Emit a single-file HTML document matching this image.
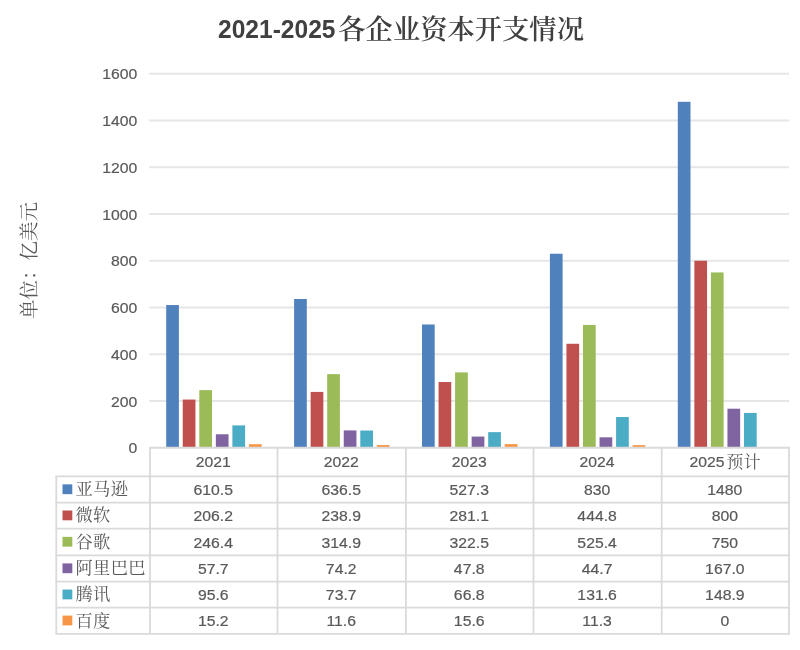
<!DOCTYPE html>
<html lang="zh-CN"><head><meta charset="utf-8"><title>2021-2025各企业资本开支情况</title>
<style>html,body{margin:0;padding:0;background:#fff;}body{width:800px;height:650px;overflow:hidden;}svg{display:block;filter:blur(0.4px);}.n{font-family:"Liberation Sans", "Noto Sans CJK SC", sans-serif;font-size:15.1px;fill:#595959;stroke:#595959;stroke-width:0.2px;}.c{font-family:"Liberation Sans", "Noto Serif CJK SC", serif;font-size:17.3px;fill:#595959;letter-spacing:0.3px;}</style></head><body>
<svg width="800" height="650" viewBox="0 0 800 650">
<rect width="800" height="650" fill="#ffffff"/>
<text x="218" y="37.5" font-family='"Liberation Sans", "Noto Serif CJK SC", sans-serif' font-weight="700" font-size="27" fill="#404040"><tspan font-size="25" textLength="117.5" lengthAdjust="spacingAndGlyphs">2021-2025</tspan><tspan x="338.3" dy="1" font-size="27.3" font-weight="600">各企业资本开支情况</tspan></text>
<text class="n" transform="translate(137.30,453.25) scale(1.045,1)" text-anchor="end">0</text>
<line x1="149.1" y1="401.00" x2="789.0" y2="401.00" stroke="#E6E6E6" stroke-width="1.9"/>
<text class="n" transform="translate(137.30,406.50) scale(1.045,1)" text-anchor="end">200</text>
<line x1="149.1" y1="354.25" x2="789.0" y2="354.25" stroke="#E6E6E6" stroke-width="1.9"/>
<text class="n" transform="translate(137.30,359.75) scale(1.045,1)" text-anchor="end">400</text>
<line x1="149.1" y1="307.50" x2="789.0" y2="307.50" stroke="#E6E6E6" stroke-width="1.9"/>
<text class="n" transform="translate(137.30,313.00) scale(1.045,1)" text-anchor="end">600</text>
<line x1="149.1" y1="260.75" x2="789.0" y2="260.75" stroke="#E6E6E6" stroke-width="1.9"/>
<text class="n" transform="translate(137.30,266.25) scale(1.045,1)" text-anchor="end">800</text>
<line x1="149.1" y1="214.00" x2="789.0" y2="214.00" stroke="#E6E6E6" stroke-width="1.9"/>
<text class="n" transform="translate(137.30,219.50) scale(1.045,1)" text-anchor="end">1000</text>
<line x1="149.1" y1="167.25" x2="789.0" y2="167.25" stroke="#E6E6E6" stroke-width="1.9"/>
<text class="n" transform="translate(137.30,172.75) scale(1.045,1)" text-anchor="end">1200</text>
<line x1="149.1" y1="120.50" x2="789.0" y2="120.50" stroke="#E6E6E6" stroke-width="1.9"/>
<text class="n" transform="translate(137.30,126.00) scale(1.045,1)" text-anchor="end">1400</text>
<line x1="149.1" y1="73.75" x2="789.0" y2="73.75" stroke="#E6E6E6" stroke-width="1.9"/>
<text class="n" transform="translate(137.30,79.25) scale(1.045,1)" text-anchor="end">1600</text>
<text transform="translate(36.3,260.5) rotate(-90)" text-anchor="middle" font-family='"Liberation Sans", "Noto Serif CJK SC", serif' font-size="19.5" fill="#595959">单位：亿美元</text>
<rect x="166.20" y="305.05" width="12.7" height="142.10" fill="#4F81BD"/>
<rect x="182.75" y="399.55" width="12.7" height="47.60" fill="#C0504D"/>
<rect x="199.30" y="390.15" width="12.7" height="57.00" fill="#9BBB59"/>
<rect x="215.85" y="434.26" width="12.7" height="12.89" fill="#8064A2"/>
<rect x="232.40" y="425.40" width="12.7" height="21.75" fill="#4BACC6"/>
<rect x="248.95" y="444.20" width="12.7" height="2.95" fill="#F79646"/>
<rect x="294.10" y="298.97" width="12.7" height="148.18" fill="#4F81BD"/>
<rect x="310.65" y="391.91" width="12.7" height="55.24" fill="#C0504D"/>
<rect x="327.20" y="374.14" width="12.7" height="73.01" fill="#9BBB59"/>
<rect x="343.75" y="430.41" width="12.7" height="16.74" fill="#8064A2"/>
<rect x="360.30" y="430.52" width="12.7" height="16.63" fill="#4BACC6"/>
<rect x="376.85" y="445.04" width="12.7" height="2.11" fill="#F79646"/>
<rect x="422.00" y="324.49" width="12.7" height="122.66" fill="#4F81BD"/>
<rect x="438.55" y="382.04" width="12.7" height="65.11" fill="#C0504D"/>
<rect x="455.10" y="372.37" width="12.7" height="74.78" fill="#9BBB59"/>
<rect x="471.65" y="436.58" width="12.7" height="10.57" fill="#8064A2"/>
<rect x="488.20" y="432.14" width="12.7" height="15.01" fill="#4BACC6"/>
<rect x="504.75" y="444.10" width="12.7" height="3.05" fill="#F79646"/>
<rect x="549.90" y="253.74" width="12.7" height="193.41" fill="#4F81BD"/>
<rect x="566.45" y="343.78" width="12.7" height="103.37" fill="#C0504D"/>
<rect x="583.00" y="324.94" width="12.7" height="122.21" fill="#9BBB59"/>
<rect x="599.55" y="437.30" width="12.7" height="9.85" fill="#8064A2"/>
<rect x="616.10" y="416.99" width="12.7" height="30.16" fill="#4BACC6"/>
<rect x="632.65" y="445.11" width="12.7" height="2.04" fill="#F79646"/>
<rect x="677.80" y="101.80" width="12.7" height="345.35" fill="#4F81BD"/>
<rect x="694.35" y="260.75" width="12.7" height="186.40" fill="#C0504D"/>
<rect x="710.90" y="272.44" width="12.7" height="174.71" fill="#9BBB59"/>
<rect x="727.45" y="408.71" width="12.7" height="38.44" fill="#8064A2"/>
<rect x="744.00" y="412.94" width="12.7" height="34.21" fill="#4BACC6"/>
<g stroke="#DADADA" stroke-width="1.8" fill="none">
<line x1="149.1" y1="447.75" x2="789.9" y2="447.75"/>
<line x1="55.4" y1="476.3" x2="789.9" y2="476.3"/>
<line x1="55.4" y1="502.6" x2="789.9" y2="502.6"/>
<line x1="55.4" y1="528.6" x2="789.9" y2="528.6"/>
<line x1="55.4" y1="555.3" x2="789.9" y2="555.3"/>
<line x1="55.4" y1="581.7" x2="789.9" y2="581.7"/>
<line x1="55.4" y1="607.6" x2="789.9" y2="607.6"/>
<line x1="55.4" y1="633.8" x2="789.9" y2="633.8"/>
<line x1="56.3" y1="476.3" x2="56.3" y2="633.8"/>
<line x1="150.00" y1="447.75" x2="150.00" y2="633.8"/>
<line x1="277.50" y1="447.75" x2="277.50" y2="633.8"/>
<line x1="405.90" y1="447.75" x2="405.90" y2="633.8"/>
<line x1="533.50" y1="447.75" x2="533.50" y2="633.8"/>
<line x1="661.70" y1="447.75" x2="661.70" y2="633.8"/>
<line x1="789.00" y1="447.75" x2="789.00" y2="633.8"/>
</g>
<text class="n" transform="translate(213.25,467.22) scale(1.045,1)" text-anchor="middle">2021</text>
<text class="n" transform="translate(341.20,467.22) scale(1.045,1)" text-anchor="middle">2022</text>
<text class="n" transform="translate(469.20,467.22) scale(1.045,1)" text-anchor="middle">2023</text>
<text class="n" transform="translate(597.10,467.22) scale(1.045,1)" text-anchor="middle">2024</text>
<text class="n" transform="translate(724.60,467.22) scale(1.045,1)" text-anchor="end">2025</text>
<text class="c" style="font-size:16.8px" x="726.6" y="467.82">预计</text>
<rect x="62.5" y="484.35" width="9.8" height="9.8" fill="#4F81BD"/>
<text class="c" x="75.5" y="495.25">亚马逊</text>
<text class="n" transform="translate(213.25,495.05) scale(1.045,1)" text-anchor="middle">610.5</text>
<text class="n" transform="translate(341.20,495.05) scale(1.045,1)" text-anchor="middle">636.5</text>
<text class="n" transform="translate(469.20,495.05) scale(1.045,1)" text-anchor="middle">527.3</text>
<text class="n" transform="translate(597.10,495.05) scale(1.045,1)" text-anchor="middle">830</text>
<text class="n" transform="translate(724.85,495.05) scale(1.045,1)" text-anchor="middle">1480</text>
<rect x="62.5" y="510.50" width="9.8" height="9.8" fill="#C0504D"/>
<text class="c" x="75.5" y="521.40">微软</text>
<text class="n" transform="translate(213.25,521.20) scale(1.045,1)" text-anchor="middle">206.2</text>
<text class="n" transform="translate(341.20,521.20) scale(1.045,1)" text-anchor="middle">238.9</text>
<text class="n" transform="translate(469.20,521.20) scale(1.045,1)" text-anchor="middle">281.1</text>
<text class="n" transform="translate(597.10,521.20) scale(1.045,1)" text-anchor="middle">444.8</text>
<text class="n" transform="translate(724.85,521.20) scale(1.045,1)" text-anchor="middle">800</text>
<rect x="62.5" y="536.85" width="9.8" height="9.8" fill="#9BBB59"/>
<text class="c" x="75.5" y="547.75">谷歌</text>
<text class="n" transform="translate(213.25,547.55) scale(1.045,1)" text-anchor="middle">246.4</text>
<text class="n" transform="translate(341.20,547.55) scale(1.045,1)" text-anchor="middle">314.9</text>
<text class="n" transform="translate(469.20,547.55) scale(1.045,1)" text-anchor="middle">322.5</text>
<text class="n" transform="translate(597.10,547.55) scale(1.045,1)" text-anchor="middle">525.4</text>
<text class="n" transform="translate(724.85,547.55) scale(1.045,1)" text-anchor="middle">750</text>
<rect x="62.5" y="563.40" width="9.8" height="9.8" fill="#8064A2"/>
<text class="c" x="75.5" y="574.30">阿里巴巴</text>
<text class="n" transform="translate(213.25,574.10) scale(1.045,1)" text-anchor="middle">57.7</text>
<text class="n" transform="translate(341.20,574.10) scale(1.045,1)" text-anchor="middle">74.2</text>
<text class="n" transform="translate(469.20,574.10) scale(1.045,1)" text-anchor="middle">47.8</text>
<text class="n" transform="translate(597.10,574.10) scale(1.045,1)" text-anchor="middle">44.7</text>
<text class="n" transform="translate(724.85,574.10) scale(1.045,1)" text-anchor="middle">167.0</text>
<rect x="62.5" y="589.55" width="9.8" height="9.8" fill="#4BACC6"/>
<text class="c" x="75.5" y="600.45">腾讯</text>
<text class="n" transform="translate(213.25,600.25) scale(1.045,1)" text-anchor="middle">95.6</text>
<text class="n" transform="translate(341.20,600.25) scale(1.045,1)" text-anchor="middle">73.7</text>
<text class="n" transform="translate(469.20,600.25) scale(1.045,1)" text-anchor="middle">66.8</text>
<text class="n" transform="translate(597.10,600.25) scale(1.045,1)" text-anchor="middle">131.6</text>
<text class="n" transform="translate(724.85,600.25) scale(1.045,1)" text-anchor="middle">148.9</text>
<rect x="62.5" y="615.60" width="9.8" height="9.8" fill="#F79646"/>
<text class="c" x="75.5" y="626.50">百度</text>
<text class="n" transform="translate(213.25,626.30) scale(1.045,1)" text-anchor="middle">15.2</text>
<text class="n" transform="translate(341.20,626.30) scale(1.045,1)" text-anchor="middle">11.6</text>
<text class="n" transform="translate(469.20,626.30) scale(1.045,1)" text-anchor="middle">15.6</text>
<text class="n" transform="translate(597.10,626.30) scale(1.045,1)" text-anchor="middle">11.3</text>
<text class="n" transform="translate(724.85,626.30) scale(1.045,1)" text-anchor="middle">0</text>
</svg></body></html>
